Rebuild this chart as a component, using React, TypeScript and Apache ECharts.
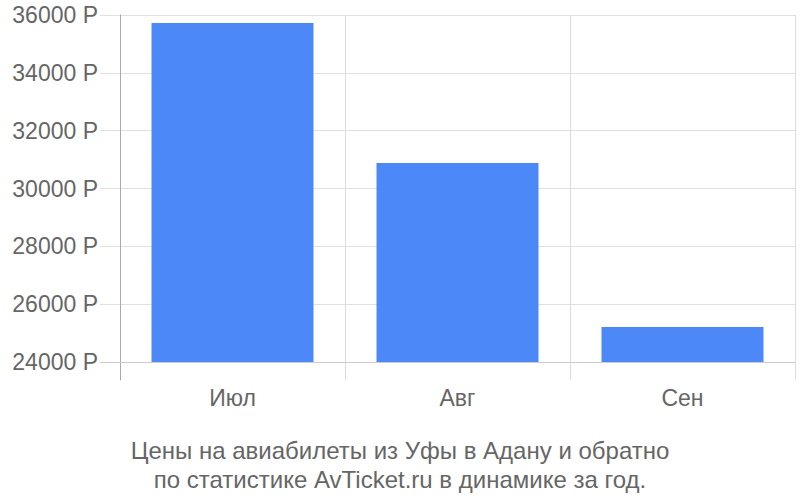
import React, { useEffect, useRef } from "react";
import * as echarts from "echarts";

const categories = ["Июл", "Авг", "Сен"];
const prices = [35720, 30880, 25210];
const yMin = 24000;
const yMax = 36000;
const yStep = 2000;
const titleLines = [
  "Цены на авиабилеты из Уфы в Адану и обратно",
  "по статистике AvTicket.ru в динамике за год.",
];

const FONT = "'Liberation Sans', Arial, sans-serif";
const TEXT = "#666666";

export default function App() {
  const ref = useRef<HTMLDivElement>(null);
  useEffect(() => {
    document.body.style.margin = "0";
    if (!ref.current) return;
    const chart = echarts.init(ref.current, null, { renderer: "svg" });
    chart.setOption({
      animation: false,
      textStyle: { fontFamily: FONT },
      title: {
        text: titleLines.join("\n"),
        left: "center",
        top: 431,
        textStyle: {
          fontFamily: FONT,
          fontSize: 24,
          fontWeight: "normal",
          color: TEXT,
          lineHeight: 29,
        },
      },
      grid: [
        { left: 100, right: 5, top: 15, bottom: 138 },
        { left: 120, right: 5, top: 15, bottom: 120 },
        { left: 120, right: 5, top: 15, bottom: 138 },
      ],
      xAxis: [
        {
          gridIndex: 0,
          type: "value",
          min: 0,
          max: 1,
          axisLine: { show: true, lineStyle: { color: "#cccccc", width: 1 } },
          axisTick: { show: false },
          axisLabel: { show: false },
          splitLine: { show: false },
        },
        {
          gridIndex: 1,
          type: "category",
          data: categories,
          axisLine: { show: false },
          axisTick: { show: false },
          axisLabel: {
            color: TEXT,
            fontSize: 23,
            fontFamily: FONT,
            margin: 6,
          },
          splitLine: { show: true, lineStyle: { color: "#dddddd", width: 1 } },
        },
        {
          gridIndex: 2,
          type: "category",
          data: categories,
          show: false,
        },
      ],
      yAxis: [
        {
          gridIndex: 0,
          type: "value",
          min: yMin,
          max: yMax,
          interval: yStep,
          axisLine: { show: false },
          axisTick: { show: false },
          axisLabel: {
            color: TEXT,
            fontSize: 23,
            fontFamily: FONT,
            margin: 2,
            formatter: (v: number) => `${v} Р`,
          },
          splitLine: { show: true, lineStyle: { color: "#e0e0e0", width: 1 } },
        },
        {
          gridIndex: 1,
          type: "value",
          min: 0,
          max: 1,
          axisLine: { show: true, lineStyle: { color: "#aaaaaa", width: 1 } },
          axisTick: { show: false },
          axisLabel: { show: false },
          splitLine: { show: false },
        },
        {
          gridIndex: 2,
          type: "value",
          min: yMin,
          max: yMax,
          show: false,
          splitLine: { show: false },
        },
      ],
      series: [
        {
          type: "bar",
          xAxisIndex: 2,
          yAxisIndex: 2,
          data: prices,
          barWidth: "72%",
          itemStyle: { color: "#4d88f9" },
        },
      ],
    });
    return () => chart.dispose();
  }, []);
  return <div ref={ref} style={{ width: 800, height: 500 }} />;
}
